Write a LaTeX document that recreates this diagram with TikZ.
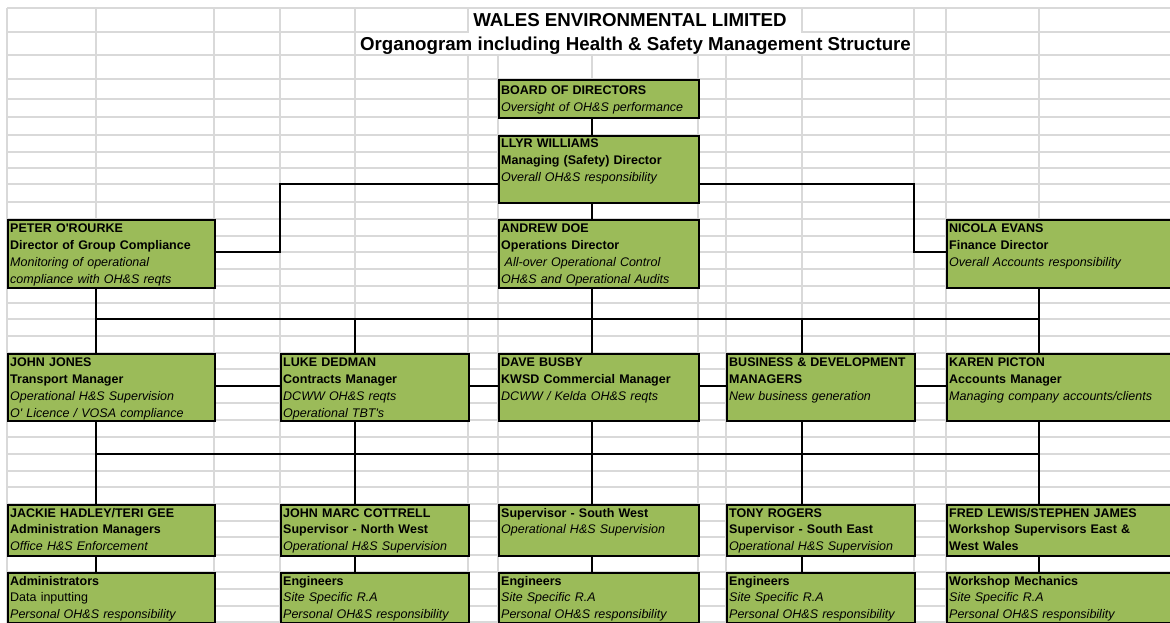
\documentclass[tikz,border=0pt]{standalone}
\usepackage{fontspec}
\setmainfont{Liberation Sans}[Ligatures=TeXOff]
\definecolor{boxgreen}{RGB}{155,187,89}
\definecolor{gridgrey}{RGB}{217,217,217}
\newcommand\nm[1]{\textbf{#1}}
\newcommand\ds[1]{\textit{#1}}
\tikzset{
  gridline/.style={gridgrey, line width=1.3pt},
  orgbox/.style={draw=black, line width=2pt, fill=boxgreen, inner sep=0pt, anchor=north west},
  boxtext/.style={anchor=base west, inner sep=0pt, text width=300pt, align=left, font=\fontsize{12.5}{16.9}\selectfont},
  titletext/.style={anchor=base, inner sep=0pt, font=\fontsize{18.7}{22}\selectfont\bfseries},
  conn/.style={black, line width=1.1pt}
}
\begin{document}
\begin{tikzpicture}[x=1pt,y=-1pt]
\useasboundingbox (0,0) rectangle (1170,623);
\clip (0,0) rectangle (1170,623);
\fill[white] (0,0) rectangle (1170,623);
% spreadsheet grid
\foreach \yy in {8,32,55,79,99,117,135,152,168,184,202,219,236,252,269,286,303,319,336,353,369,386,403,420,437,454,471,487,504,521,537,555,572,589,606,622}
  \draw[gridline] (7,\yy) -- (1175,\yy);
\foreach \xx in {7,96,214,280,355,468,498,592,698,726,802,914,946,1039}
  \draw[gridline] (\xx,8) -- (\xx,630);
% merged title cells
\fill[white] (468.7,8.7) rectangle (801.3,54.3);
\fill[white] (355.7,32.7) rectangle (913.3,54.3);
% titles
\node[titletext] (title1) at (630,27) {WALES ENVIRONMENTAL LIMITED};
\node[titletext] (title2) at (635.5,51) {Organogram including Health \& Safety Management Structure};
% column coordinates
\coordinate (cA) at (96,0);
\coordinate (cB) at (355,0);
\coordinate (cC) at (592,0);
\coordinate (cD) at (802,0);
\coordinate (cE) at (1039,0);
% boxes
\node[orgbox, minimum width=200pt, minimum height=38pt] (board) at (498,79) {};
\node[orgbox, minimum width=200pt, minimum height=67pt] (llyr) at (498,135) {};
\node[orgbox, minimum width=207pt, minimum height=67.5pt] (peter) at (7,219) {};
\node[orgbox, minimum width=200pt, minimum height=67.5pt] (andrew) at (498,219) {};
\node[orgbox, minimum width=240pt, minimum height=67.5pt] (nicola) at (946,219) {};
\node[orgbox, minimum width=207pt, minimum height=67pt] (john) at (7,353) {};
\node[orgbox, minimum width=188pt, minimum height=67pt] (luke) at (280,353) {};
\node[orgbox, minimum width=200pt, minimum height=67pt] (dave) at (498,353) {};
\node[orgbox, minimum width=188pt, minimum height=67pt] (busdev) at (726,353) {};
\node[orgbox, minimum width=240pt, minimum height=67pt] (karen) at (946,353) {};
\node[orgbox, minimum width=207pt, minimum height=51pt] (jackie) at (7,504) {};
\node[orgbox, minimum width=188pt, minimum height=51pt] (jmc) at (280,504) {};
\node[orgbox, minimum width=200pt, minimum height=51pt] (supsw) at (498,504) {};
\node[orgbox, minimum width=188pt, minimum height=51pt] (tony) at (726,504) {};
\node[orgbox, minimum width=240pt, minimum height=51pt] (fred) at (946,504) {};
\node[orgbox, minimum width=207pt, minimum height=50pt] (admins) at (7,572) {};
\node[orgbox, minimum width=188pt, minimum height=50pt] (engA) at (280,572) {};
\node[orgbox, minimum width=200pt, minimum height=50pt] (engB) at (498,572) {};
\node[orgbox, minimum width=188pt, minimum height=50pt] (engC) at (726,572) {};
\node[orgbox, minimum width=240pt, minimum height=50pt] (mech) at (946,572) {};
% connectors
\coordinate (eL1) at (280,184); \coordinate (eL2) at (280,252);
\coordinate (eR1) at (914,184); \coordinate (eR2) at (914,252);
\coordinate (b1L) at (96,319); \coordinate (b1R) at (1039,319);
\coordinate (b2L) at (96,454); \coordinate (b2R) at (1039,454);
\coordinate (s2) at (0,386);
\draw[conn] (board.south -| cC) -- (llyr.north -| cC);
\draw[conn] (llyr.south -| cC) -- (andrew.north -| cC);
\draw[conn] (llyr.west |- eL1) -- (eL1) -- (eL2) -- (peter.east |- eL2);
\draw[conn] (llyr.east |- eR1) -- (eR1) -- (eR2) -- (nicola.west |- eR2);
\draw[conn] (b1L) -- (b1R);
\draw[conn] (peter.south -| cA) -- (john.north -| cA);
\draw[conn] (nicola.south -| cE) -- (karen.north -| cE);
\draw[conn] (andrew.south -| cC) -- (dave.north -| cC);
\draw[conn] (luke.north -| cB) -- (cB |- b1L);
\draw[conn] (busdev.north -| cD) -- (cD |- b1L);
\draw[conn] (john.east |- s2) -- (luke.west |- s2);
\draw[conn] (luke.east |- s2) -- (dave.west |- s2);
\draw[conn] (dave.east |- s2) -- (busdev.west |- s2);
\draw[conn] (busdev.east |- s2) -- (karen.west |- s2);
\draw[conn] (b2L) -- (b2R);
\draw[conn] (john.south -| cA) -- (jackie.north -| cA);
\draw[conn] (luke.south -| cB) -- (jmc.north -| cB);
\draw[conn] (dave.south -| cC) -- (supsw.north -| cC);
\draw[conn] (busdev.south -| cD) -- (tony.north -| cD);
\draw[conn] (karen.south -| cE) -- (fred.north -| cE);
\draw[conn] (jackie.south -| cA) -- (admins.north -| cA);
\draw[conn] (jmc.south -| cB) -- (engA.north -| cB);
\draw[conn] (supsw.south -| cC) -- (engB.north -| cC);
\draw[conn] (tony.south -| cD) -- (engC.north -| cD);
\draw[conn] (fred.south -| cE) -- (mech.north -| cE);
% box texts
\node[boxtext] (board-t) at (501,95) {\nm{BOARD OF DIRECTORS}\\\ds{Oversight of OH\&S performance}};
\node[boxtext] (llyr-t) at (501,147.5) {\nm{LLYR WILLIAMS}\\\nm{Managing (Safety) Director}\\\ds{Overall OH\&S responsibility}};
\node[boxtext] (peter-t) at (10,232.5) {\nm{PETER O'ROURKE}\\\nm{Director of Group Compliance}\\\ds{Monitoring of operational}\\\ds{compliance with OH\&S reqts}};
\node[boxtext] (andrew-t) at (501,232.5) {\nm{ANDREW DOE}\\\nm{Operations Director}\\\hspace*{3.5pt}\ds{All-over Operational Control}\\\ds{OH\&S and Operational Audits}};
\node[boxtext] (nicola-t) at (949,232.5) {\nm{NICOLA EVANS}\\\nm{Finance Director}\\\ds{Overall Accounts responsibility}};
\node[boxtext] (john-t) at (10,366.5) {\nm{JOHN JONES}\\\nm{Transport Manager}\\\ds{Operational H\&S Supervision}\\\ds{O' Licence / VOSA compliance}};
\node[boxtext] (luke-t) at (283,366.5) {\nm{LUKE DEDMAN}\\\nm{Contracts Manager}\\\ds{DCWW OH\&S reqts}\\\ds{Operational TBT's}};
\node[boxtext] (dave-t) at (501,366.5) {\nm{DAVE BUSBY}\\\nm{KWSD Commercial Manager}\\\ds{DCWW / Kelda OH\&S reqts}};
\node[boxtext] (busdev-t) at (729,366.5) {\nm{BUSINESS \& DEVELOPMENT}\\\nm{MANAGERS}\\\ds{New business generation}};
\node[boxtext] (karen-t) at (949,366.5) {\nm{KAREN PICTON}\\\nm{Accounts Manager}\\\ds{Managing company accounts/clients}};
\node[boxtext] (jackie-t) at (10,517) {\nm{JACKIE HADLEY/TERI GEE}\\\nm{Administration Managers}\\\ds{Office H\&S Enforcement}};
\node[boxtext] (jmc-t) at (283,517) {\nm{JOHN MARC COTTRELL}\\\nm{Supervisor - North West}\\\ds{Operational H\&S Supervision}};
\node[boxtext] (supsw-t) at (501,517) {\nm{Supervisor - South West}\\\ds{Operational H\&S Supervision}};
\node[boxtext] (tony-t) at (729,517) {\nm{TONY ROGERS}\\\nm{Supervisor - South East}\\\ds{Operational H\&S Supervision}};
\node[boxtext] (fred-t) at (949,517) {\nm{FRED LEWIS/STEPHEN JAMES}\\\nm{Workshop Supervisors East \&}\\\nm{West Wales}};
\node[boxtext] (admins-t) at (10,585) {\nm{Administrators}\\Data inputting\\\ds{Personal OH\&S responsibility}};
\node[boxtext] (engA-t) at (283,585) {\nm{Engineers}\\\ds{Site Specific R.A}\\\ds{Personal OH\&S responsibility}};
\node[boxtext] (engB-t) at (501,585) {\nm{Engineers}\\\ds{Site Specific R.A}\\\ds{Personal OH\&S responsibility}};
\node[boxtext] (engC-t) at (729,585) {\nm{Engineers}\\\ds{Site Specific R.A}\\\ds{Personal OH\&S responsibility}};
\node[boxtext] (mech-t) at (949,585) {\nm{Workshop Mechanics}\\\ds{Site Specific R.A}\\\ds{Personal OH\&S responsibility}};
\end{tikzpicture}
\end{document}
